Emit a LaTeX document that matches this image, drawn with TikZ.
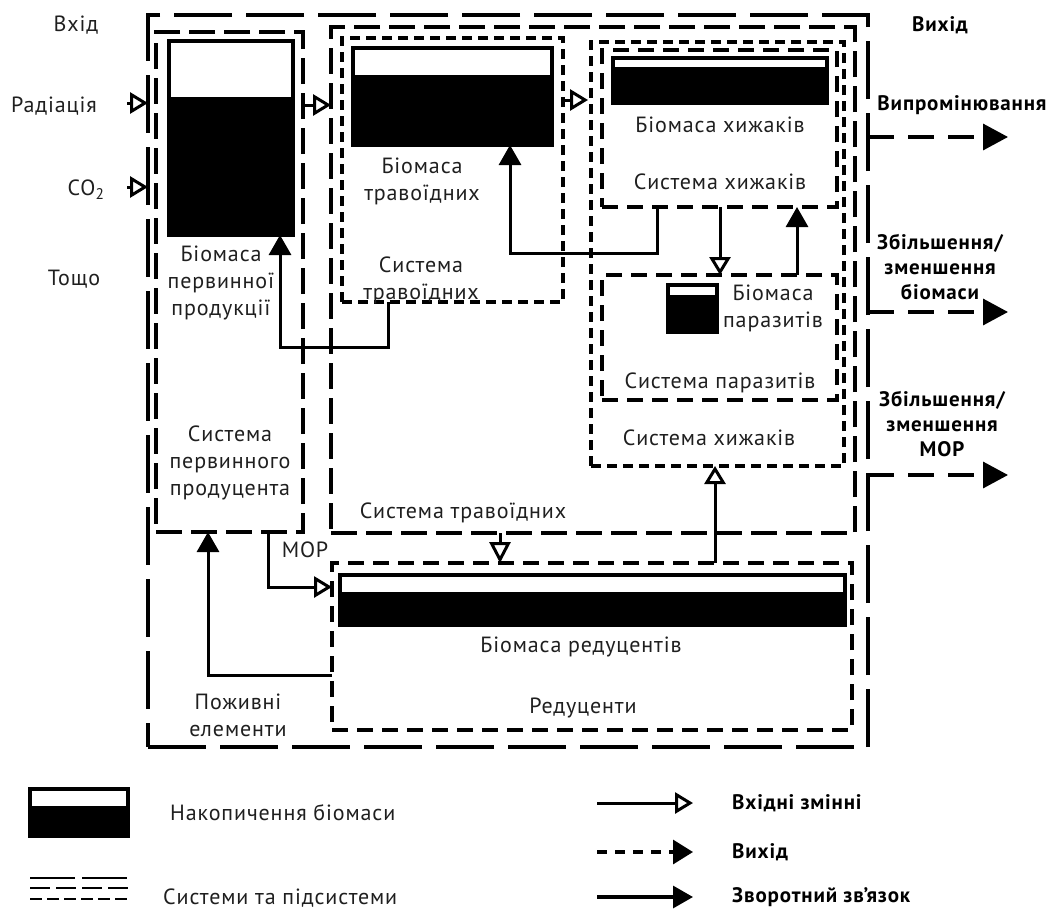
\documentclass[tikz,border=0pt]{standalone}
\usepackage{fontspec}
\setmainfont{PT Sans}
\usetikzlibrary{arrows.meta}
\begin{document}
\begin{tikzpicture}[x=1pt,y=-1pt,
  lbl/.style={font=\fontsize{22}{27}\selectfont\addfontfeatures{LetterSpace=4}, text=black!88, align=center, inner sep=0pt},
  blbl/.style={font=\bfseries\fontsize{21}{25}\selectfont\addfontfeatures{LetterSpace=4}, align=center, inner sep=0pt},
  sysbox/.style={draw, line width=3.6pt, inner sep=0pt, outer sep=0pt, anchor=north west},
  longdash/.style={dash pattern=on 58pt off 14pt},
  meddash/.style={dash pattern=on 26pt off 9pt},
  smalldash/.style={dash pattern=on 16pt off 9pt},
  tinydash/.style={dash pattern=on 10pt off 6pt},
  tank/.style={draw, line width=3.2pt, fill=black, inner sep=0pt, outer sep=0pt, anchor=north west,
    path picture={\fill[white] (path picture bounding box.north west) rectangle ([yshift=-#1pt]path picture bounding box.north east);}},
  inarrow/.style={line width=3pt, -{Triangle[open, length=18pt, width=21pt]}},
  fbarrow/.style={line width=3pt, -{Triangle[length=20pt, width=22pt]}},
  outarrow/.style={line width=3.4pt, dash pattern=on 26pt off 14pt, -{Triangle[length=25pt, width=26pt]}},
]
\fill[white] (0,0) rectangle (1054,910);
\useasboundingbox (0,0) rectangle (1054,910);

% ---------- systems ----------
\node[sysbox, longdash, minimum width=720pt, minimum height=732pt] (outer) at (148,15) {};
\node[sysbox, meddash, minimum width=147pt, minimum height=500pt] (prim) at (156,32) {};
\node[sysbox, meddash, minimum width=524pt, minimum height=506pt] (herbbig) at (331,27) {};
\node[sysbox, tinydash, minimum width=221pt, minimum height=264pt] (herbin) at (342,38) {};
\node[sysbox, tinydash, minimum width=253pt, minimum height=424pt] (predout) at (591,42) {};
\node[sysbox, smalldash, minimum width=235pt, minimum height=157pt] (predin) at (602,50) {};
\node[sysbox, smalldash, minimum width=235pt, minimum height=125pt] (para) at (602,275) {};
\node[sysbox, smalldash, minimum width=520pt, minimum height=167pt] (decomp) at (332,563) {};

% ---------- biomass tanks ----------
\node[tank=56, minimum width=124pt, minimum height=194pt] (primtank) at (169,41) {};
\node[tank=27, minimum width=199pt, minimum height=97pt] (herbtank) at (353,48) {};
\node[tank=9, minimum width=214pt, minimum height=45pt] (predtank) at (613,58) {};
\node[tank=10, minimum width=49pt, minimum height=47pt] (paratank) at (668,285) {};
\node[tank=17, minimum width=505pt, minimum height=50pt] (dectank) at (340,575) {};

% ---------- texts ----------
\node[lbl] (tin) at (76,25) {Вхід};
\node[lbl] (trad) at (54,106) {Радіація};
\node[lbl] (tco) at (86,190) {CO\textsubscript{2}};
\node[lbl] (toth) at (74,279) {Тощо};

\node[lbl] (tprimb) at (221,283) {Біомаса\\первинної\\продукції};
\node[lbl] (tprims) at (230,463) {Система\\первинного\\продуцента};
\node[lbl] (therbb) at (422,181) {Біомаса\\травоїдних};
\node[lbl] (therbs) at (421,280) {Система\\травоїдних};
\node[lbl] (therbbig) at (463,513) {Система травоїдних};
\node[lbl] (tpredb) at (720,125) {Біомаса хижаків};
\node[lbl] (tpreds) at (720,182) {Система хижаків};
\node[lbl] (tparab) at (773,308) {Біомаса\\паразитів};
\node[lbl] (tparas) at (720,383) {Система паразитів};
\node[lbl] (tpredo) at (709,438) {Система хижаків};
\node[lbl] (tdecb) at (581,647) {Біомаса редуцентів};
\node[lbl] (tdecs) at (583,708) {Редуценти};
\node[lbl] (tnutr) at (238,715) {Поживні\\елементи};
\node[lbl] (tmor) at (305,550) {МОР};

\node[blbl] (tout) at (940,25) {Вихід};
\node[blbl] (trad2) at (962,105) {Випромінювання};
\node[blbl] (tbio) at (940,267) {Збільшення/\\зменшення\\біомаси};
\node[blbl] (tmor2) at (942,424) {Збільшення/\\зменшення\\МОР};

% ---------- inputs ----------
\coordinate (rad) at (127,103);
\coordinate (co) at (127,187);
\draw[inarrow] (rad) -- (rad -| outer.west);
\draw[inarrow] (co) -- (co -| outer.west);

% ---------- flows ----------
\coordinate (f1) at (0,105);
\draw[inarrow] (prim.east |- f1) -- (herbbig.west |- f1);
\coordinate (f2) at (0,100);
\draw[inarrow, shorten >=3pt] (herbin.east |- f2) -- (predout.west |- f2);
\coordinate (f3) at (720,240);
\draw[inarrow] (f3 |- predin.south) -- (f3 |- para.north);
\coordinate (f4) at (797,240);
\draw[fbarrow] (f4 |- para.north) -- (f4 |- predin.south);
\coordinate (f5) at (657,253);
\coordinate (f6) at (510,253);
\draw[fbarrow] (f5 |- predin.south) -- (f5) -- (f6) -- (f6 |- herbtank.south);
\coordinate (f7) at (388,347);
\coordinate (f8) at (280,347);
\draw[fbarrow] (f7 |- herbin.south) -- (f7) -- (f8) -- (f8 |- primtank.south);
\coordinate (f9) at (268,587);
\draw[inarrow] (f9 |- prim.south) -- (f9) -- (decomp.west |- f9);
\coordinate (f10) at (208,675);
\draw[fbarrow] (decomp.west |- f10) -- (f10) -- (f10 |- prim.south);
\coordinate (f11) at (500,548);
\draw[line width=3pt, -{Triangle[open, length=21pt, width=21pt]}] (f11 |- herbbig.south) -- (f11 |- decomp.north);
\coordinate (f12) at (715,520);
\draw[inarrow] (f12 |- decomp.north) -- (f12 |- predout.south);

% ---------- outputs ----------
\coordinate (o1) at (1008,137);
\coordinate (o2) at (1008,312);
\coordinate (o3) at (1008,475);
\draw[outarrow] (outer.east |- o1) -- (o1);
\draw[outarrow] (outer.east |- o2) -- (o2);
\draw[outarrow] (outer.east |- o3) -- (o3);

% ---------- legend ----------
\node[tank=17, minimum width=98pt, minimum height=47pt] (legtank) at (30,789) {};
\node[lbl, anchor=west] (legtankt) at (170,813) {Накопичення біомаси};
\coordinate (la1) at (30,878); \coordinate (lb1) at (128,878);
\coordinate (la2) at (30,888); \coordinate (lb2) at (128,888);
\coordinate (la3) at (30,899); \coordinate (lb3) at (128,899);
\draw[line width=2.6pt, dash pattern=on 45pt off 7pt] (la1) -- (lb1);
\draw[line width=2.6pt, dash pattern=on 20pt off 6pt] (la2) -- (lb2);
\draw[line width=2.6pt, dash pattern=on 12pt off 5pt] (la3) -- (lb3);
\node[lbl, anchor=west] (legsyst) at (163,898) {Системи та підсистеми};

\coordinate (ra1) at (597,803); \coordinate (rb1) at (693,803);
\coordinate (ra2) at (597,852); \coordinate (rb2) at (693,852);
\coordinate (ra3) at (597,897); \coordinate (rb3) at (693,897);
\draw[inarrow] (ra1) -- (rb1);
\draw[line width=3.2pt, dash pattern=on 10pt off 8pt, -{Triangle[length=20pt, width=24pt]}] (ra2) -- (rb2);
\draw[fbarrow, line width=3.2pt] (ra3) -- (rb3);
\node[blbl, anchor=west] (legin) at (732,803) {Вхідні змінні};
\node[blbl, anchor=west] (legout) at (732,852) {Вихід};
\node[blbl, anchor=west] (legfb) at (732,897) {Зворотний зв’язок};
\end{tikzpicture}
\end{document}
